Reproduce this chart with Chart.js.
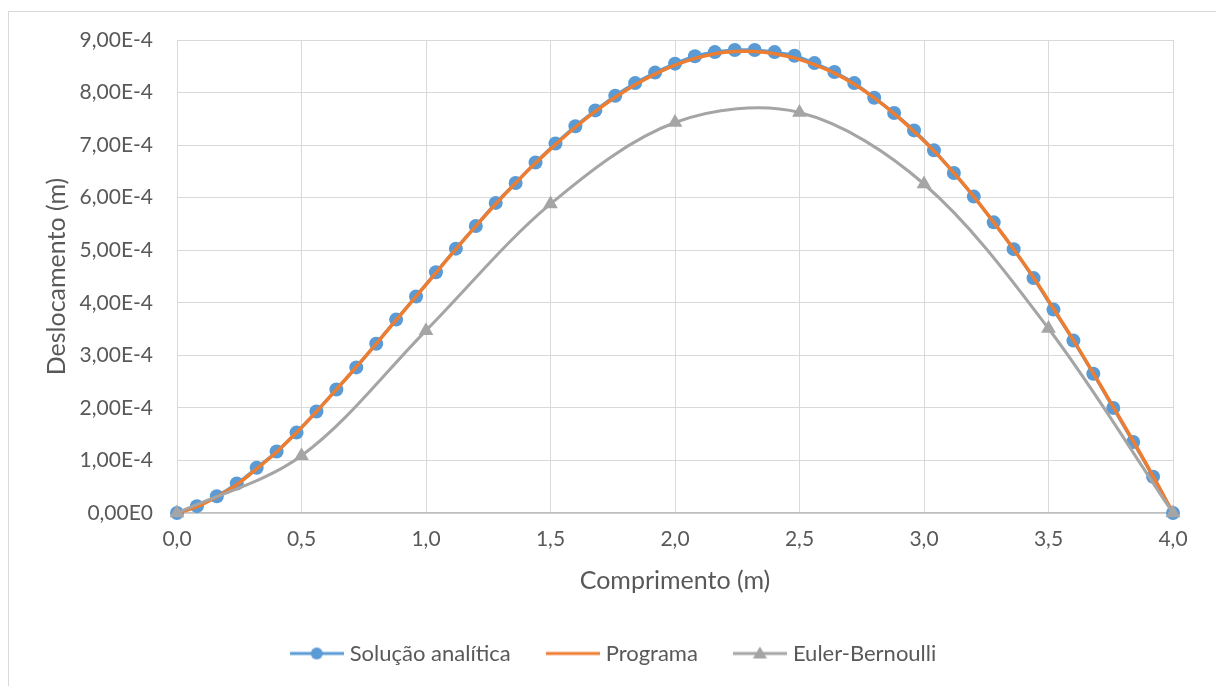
<!DOCTYPE html>
<html lang="pt">
<head>
<meta charset="utf-8">
<title>Deslocamento x Comprimento</title>
<script src="https://cdn.jsdelivr.net/npm/chart.js@4.4.1/dist/chart.umd.min.js"></script>
<style>
  html, body { margin: 0; padding: 0; background: #fff; }
  #wrap { width: 1216px; height: 686px; }
</style>
</head>
<body>
<div id="wrap"><canvas id="grafico" width="1216" height="686"></canvas></div>
<script>
// deslocamentos em unidades de 1E-4 m
const comprimento = [0.00, 0.08, 0.16, 0.24, 0.32, 0.40, 0.48, 0.56, 0.64, 0.72,
  0.80, 0.88, 0.96, 1.04, 1.12, 1.20, 1.28, 1.36, 1.44, 1.52,
  1.60, 1.68, 1.76, 1.84, 1.92, 2.00, 2.08, 2.16, 2.24, 2.32,
  2.40, 2.48, 2.56, 2.64, 2.72, 2.80, 2.88, 2.96, 3.04, 3.12,
  3.20, 3.28, 3.36, 3.44, 3.52, 3.60, 3.68, 3.76, 3.84, 3.92, 4.00];
const analitica = [0, 0.13, 0.32, 0.56, 0.86, 1.17, 1.53, 1.93, 2.35, 2.77,
  3.22, 3.68, 4.12, 4.58, 5.03, 5.46, 5.90, 6.28, 6.67, 7.03,
  7.36, 7.66, 7.94, 8.18, 8.38, 8.55, 8.69, 8.77, 8.81, 8.81,
  8.77, 8.70, 8.56, 8.39, 8.18, 7.90, 7.61, 7.28, 6.90, 6.47,
  6.02, 5.53, 5.02, 4.47, 3.87, 3.28, 2.65, 2.00, 1.35, 0.69, 0];
const programa = [0, 0.12, 0.31, 0.54, 0.84, 1.16, 1.53, 1.93, 2.35, 2.78,
  3.22, 3.67, 4.12, 4.57, 5.02, 5.46, 5.88, 6.28, 6.66, 7.01,
  7.34, 7.64, 7.91, 8.15, 8.35, 8.52, 8.65, 8.74, 8.78, 8.78,
  8.74, 8.66, 8.53, 8.37, 8.16, 7.90, 7.60, 7.26, 6.89, 6.47,
  6.02, 5.53, 5.02, 4.48, 3.89, 3.29, 2.66, 2.02, 1.37, 0.70, 0];
const comprimentoEB = [0, 0.5, 1.0, 1.5, 2.0, 2.5, 3.0, 3.5, 4.0];
const eulerBernoulli = [0, 1.09, 3.47, 5.88, 7.43, 7.62, 6.26, 3.51, 0];

const AZUL = '#5b9bd5', LARANJA = '#ed7d31', CINZA = '#a5a5a5';
const TEXTO = '#595959';

Chart.defaults.font.family = 'Lato, "Open Sans", sans-serif';
Chart.defaults.color = TEXTO;

const pares = (xs, ys) => xs.map((x, i) => ({ x: x, y: ys[i] }));
const virgula = (v, d) => v.toFixed(d).replace('.', ',');

// icone da legenda: linha com marcador no meio
function iconeLegenda(cor, marcador) {
  const c = document.createElement('canvas');
  c.width = 54; c.height = 18;
  const g = c.getContext('2d');
  g.strokeStyle = cor;
  g.lineWidth = 3;
  g.beginPath(); g.moveTo(0, 9); g.lineTo(54, 9); g.stroke();
  g.fillStyle = cor;
  if (marcador === 'circulo') {
    g.beginPath(); g.arc(27, 9, 6, 0, Math.PI * 2); g.fill();
  } else if (marcador === 'triangulo') {
    g.beginPath(); g.moveTo(27, 2); g.lineTo(34, 14); g.lineTo(20, 14); g.closePath(); g.fill();
  }
  return c;
}
const icones = [iconeLegenda(AZUL, 'circulo'), iconeLegenda(LARANJA, null), iconeLegenda(CINZA, 'triangulo')];

const moldura = {
  id: 'moldura',
  beforeDraw(chart) {
    const g = chart.ctx;
    g.save();
    g.fillStyle = '#fff';
    g.fillRect(0, 0, chart.width, chart.height);
    g.strokeStyle = '#d9d9d9';
    g.lineWidth = 1;
    g.strokeRect(8.5, 11.5, chart.width, chart.height);
    g.restore();
  }
};

new Chart(document.getElementById('grafico'), {
  type: 'line',
  data: {
    datasets: [
      {
        label: 'Solução analítica',
        data: pares(comprimento, analitica),
        borderColor: AZUL,
        backgroundColor: AZUL,
        borderWidth: 3,
        pointRadius: 7,
        pointBorderWidth: 0,
        pointBackgroundColor: AZUL,
        tension: 0.33,
        clip: false,
        order: 3
      },
      {
        label: 'Programa',
        data: pares(comprimento, programa),
        borderColor: LARANJA,
        backgroundColor: LARANJA,
        borderWidth: 3.5,
        pointRadius: 0,
        tension: 0.33,
        clip: false,
        order: 2
      },
      {
        label: 'Euler-Bernoulli',
        data: pares(comprimentoEB, eulerBernoulli),
        borderColor: CINZA,
        backgroundColor: CINZA,
        borderWidth: 3,
        pointStyle: 'triangle',
        pointRadius: 8.5,
        pointBorderWidth: 0,
        pointBackgroundColor: CINZA,
        tension: 0.33,
        clip: false,
        order: 1
      }
    ]
  },
  options: {
    responsive: false,
    animation: false,
    devicePixelRatio: 1,
    layout: { padding: { left: 58, right: 43, top: 40, bottom: 11.5 } },
    scales: {
      x: {
        type: 'linear',
        min: 0,
        max: 4,
        ticks: {
          stepSize: 0.5,
          padding: 14,
          font: { size: 21 },
          color: TEXTO,
          callback: v => virgula(v, 1)
        },
        grid: { color: '#d9d9d9', drawTicks: false },
        border: { color: '#bfbfbf', width: 1.5 },
        title: {
          display: true,
          text: 'Comprimento (m)',
          font: { size: 25 },
          color: TEXTO,
          padding: { top: 0, bottom: 7 }
        },
        afterFit(s) { s.height = 89.5; }
      },
      y: {
        min: 0,
        max: 9,
        ticks: {
          stepSize: 1,
          padding: 24,
          font: { size: 21 },
          color: TEXTO,
          callback: v => v === 0 ? '0,00E0' : virgula(v, 2) + 'E-4'
        },
        grid: { color: '#d9d9d9', drawTicks: false },
        border: { color: '#d9d9d9' },
        title: {
          display: true,
          text: 'Deslocamento (m)',
          font: { size: 25 },
          color: TEXTO,
          padding: { top: -16, bottom: 0 }
        },
        afterFit(s) { s.width = 119; }
      }
    },
    plugins: {
      tooltip: { enabled: false },
      legend: {
        position: 'bottom',
        labels: {
          usePointStyle: true,
          pointStyleWidth: 44,
          padding: 40,
          font: { size: 22 },
          color: TEXTO,
          sort: (a, b) => a.datasetIndex - b.datasetIndex,
          generateLabels(chart) {
            const itens = Chart.defaults.plugins.legend.labels.generateLabels(chart);
            itens.forEach(it => { it.pointStyle = icones[it.datasetIndex]; });
            return itens;
          }
        }
      }
    }
  },
  plugins: [moldura]
});
</script>
</body>
</html>
